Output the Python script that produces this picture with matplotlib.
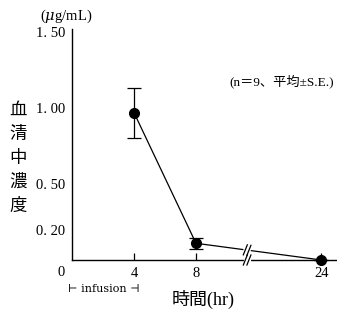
import numpy as np
import matplotlib.pyplot as plt

plt.rcParams['font.family'] = ['Liberation Serif', 'Noto Sans CJK JP']
plt.rcParams['mathtext.fontset'] = 'dejavuserif'

# data
hours = [4, 8, 24]
means = [0.97, 0.11, 0.0]
se = [0.165, 0.035, 0.0]
ytick_vals = [0.20, 0.50, 1.00, 1.50]
ytick_labels = ['0. 20', '0. 50', '1. 00', '1. 50']
xtick_vals = [4, 8, 24]

# broken x axis: 8 -> 24 compressed
def xmap(h):
    h = np.asarray(h, dtype=float)
    return np.where(h <= 8, h, 8 + (h - 8) * 0.506)

fig = plt.figure(figsize=(3.37, 3.09), dpi=100)
ax = fig.add_axes([72/337, 49/309, 265/337, 231/309])
ax.set_xlim(0, 17.1)
ax.set_ylim(0, 1.52)

for s in ['top', 'right']:
    ax.spines[s].set_visible(False)
for s in ['left', 'bottom']:
    ax.spines[s].set_linewidth(1.0)

xs = xmap(hours)
ax.errorbar(xs, means, yerr=se, fmt='o-', color='black', ms=7, lw=0.9,
            elinewidth=0.9, capsize=5, capthick=0.9, clip_on=False, zorder=3)

ax.set_yticks(ytick_vals)
ax.set_yticklabels(ytick_labels)
ax.tick_params(axis='y', length=0, pad=5, labelsize=10.5)
ax.set_xticks(xmap(xtick_vals))
ax.set_xticklabels([str(h) for h in xtick_vals])
ax.tick_params(axis='x', direction='in', length=5, width=0.9, pad=5, labelsize=10.5)

# "0" at origin
ax.text(-0.7, -0.085, '0', ha='center', va='center', fontsize=10.5)

# break marks
pxx, pxy = 15.5, 152.0
xb = 11.3
def break_mark(x0, y0, slope):
    for dx in (-1.8, 1.8):
        xc = x0 + dx / pxx
        yc = y0 + slope * dx / pxx
        ax.plot([xc - 2/pxx, xc + 2/pxx], [yc - 5/pxy, yc + 5/pxy],
                color='black', lw=0.9, clip_on=False, zorder=5)
    ax.plot([x0 - 1.6/pxx, x0 + 1.6/pxx],
            [y0 - slope*1.6/pxx, y0 + slope*1.6/pxx],
            color='white', lw=3, clip_on=False, zorder=4)

slope = (means[2] - means[1]) / (xs[2] - xs[1])
break_mark(xb, means[1] + slope * (xb - xs[1]), slope)
break_mark(xb, 0.0, 0.0)

# texts
fig.text(66/337, 1 - 16/309, r'($\mu$g/mL)', ha='center', va='center', fontsize=10.5)
fig.text(282/337, 1 - 81/309, '(n＝9、平均±S.E.)', ha='center', va='center', fontsize=9.5)
fig.text(18/337, 1 - 159/309, '血\n清\n中\n濃\n度', ha='center', va='center',
         fontsize=12.5, linespacing=1.65)
fig.text(203/337, 1 - 299/309, '時間(hr)', ha='center', va='center', fontsize=13)
ax.text(2.05, -0.19, '⊢ infusion ⊣', ha='center', va='center', fontsize=8,
        family=['DejaVu Serif'], clip_on=False)

fig.savefig('out.png', dpi=100)
